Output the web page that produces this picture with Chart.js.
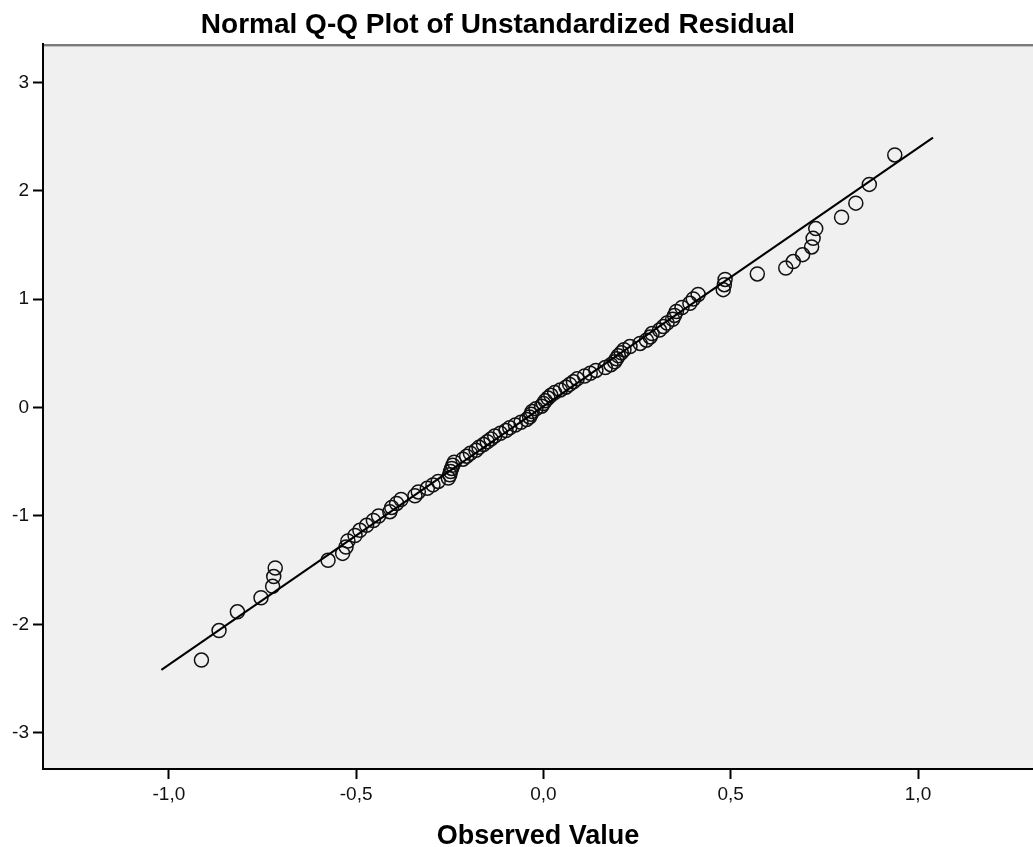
<!DOCTYPE html>
<html><head><meta charset="utf-8">
<script src="https://cdn.jsdelivr.net/npm/chart.js@4.4.1/dist/chart.umd.min.js"></script>
<style>html,body{margin:0;padding:0;background:#fff;overflow:hidden}canvas{display:block}</style>
</head><body>
<canvas id="c" width="1033" height="847"></canvas>
<script>
const titleText = 'Normal Q-Q Plot of Unstandardized Residual';
const xAxisTitle = 'Observed Value';

const observed = [
 -0.913,-0.866,-0.817,-0.754,-0.723,-0.720,-0.716,-0.575,-0.536,-0.527,
 -0.522,-0.503,-0.490,-0.472,-0.454,-0.440,-0.410,-0.405,-0.392,-0.380,
 -0.343,-0.334,-0.310,-0.295,-0.281,-0.254,-0.250,-0.248,-0.245,-0.242,
 -0.238,-0.215,-0.205,-0.195,-0.180,-0.172,-0.160,-0.150,-0.140,-0.130,
 -0.115,-0.100,-0.090,-0.075,-0.060,-0.045,-0.037,-0.033,-0.030,-0.020,
 -0.005, 0.000, 0.005, 0.012, 0.020, 0.030, 0.045, 0.060, 0.070, 0.080,
  0.090, 0.110, 0.125, 0.140, 0.165, 0.180, 0.190, 0.195, 0.200, 0.208,
  0.215, 0.231, 0.258, 0.275, 0.285, 0.290, 0.310, 0.320, 0.330, 0.345,
  0.350, 0.355, 0.370, 0.391, 0.400, 0.413, 0.480, 0.483, 0.485, 0.571,
  0.647, 0.667, 0.692, 0.716, 0.720, 0.727, 0.796, 0.834, 0.870, 0.938
];
const expected = [
 -2.330,-2.058,-1.885,-1.755,-1.650,-1.560,-1.481,-1.410,-1.346,-1.287,
 -1.232,-1.181,-1.133,-1.087,-1.043,-1.001,-0.961,-0.922,-0.885,-0.849,
 -0.814,-0.779,-0.746,-0.714,-0.682,-0.651,-0.621,-0.591,-0.562,-0.533,
 -0.505,-0.477,-0.449,-0.422,-0.395,-0.368,-0.342,-0.316,-0.290,-0.264,
 -0.238,-0.213,-0.187,-0.162,-0.137,-0.112,-0.087,-0.062,-0.037,-0.012,
  0.012, 0.037, 0.062, 0.087, 0.112, 0.137, 0.162, 0.187, 0.213, 0.238,
  0.264, 0.290, 0.316, 0.342, 0.368, 0.395, 0.422, 0.449, 0.477, 0.505,
  0.533, 0.562, 0.591, 0.621, 0.651, 0.682, 0.714, 0.746, 0.779, 0.814,
  0.849, 0.885, 0.922, 0.961, 1.001, 1.043, 1.087, 1.133, 1.181, 1.232,
  1.287, 1.346, 1.410, 1.481, 1.560, 1.650, 1.755, 1.885, 2.058, 2.330
];
const lineObserved = [-1.02, 1.04];
const lineExpected = [-2.42, 2.49];

const xTickValues = [-1, -0.5, 0, 0.5, 1];
const xTickLabels = ['-1,0', '-0,5', '0,0', '0,5', '1,0'];
const yTickValues = [-3, -2, -1, 0, 1, 2, 3];
const yTickLabels = ['-3', '-2', '-1', '0', '1', '2', '3'];

const FONT = "'Liberation Sans', Arial, sans-serif";

const framePlugin = {
  id: 'frame',
  beforeDraw(chart) {
    const {ctx, chartArea: a} = chart;
    ctx.save();
    ctx.fillStyle = '#f0f0f0';
    ctx.fillRect(a.left, a.top, a.right - a.left, a.bottom - a.top);
    ctx.strokeStyle = '#7a7a7a';
    ctx.lineWidth = 2;
    ctx.beginPath();
    ctx.moveTo(a.left, a.top + 1);
    ctx.lineTo(a.right, a.top + 1);
    ctx.stroke();
    ctx.strokeStyle = '#c0c0c0';
    ctx.lineWidth = 1;
    ctx.beginPath();
    ctx.moveTo(a.left, a.top + 2.5);
    ctx.lineTo(a.right, a.top + 2.5);
    ctx.stroke();
    ctx.restore();
  },
  afterDraw(chart) {
    const {ctx} = chart;
    ctx.save();
    ctx.fillStyle = '#000';
    ctx.font = 'bold 28px ' + FONT;
    ctx.textAlign = 'center';
    ctx.textBaseline = 'alphabetic';
    ctx.fillText(titleText, 498, 33);
    ctx.restore();
  }
};

const points = observed.map((v, i) => ({x: v, y: expected[i]}));
const linePts = lineObserved.map((v, i) => ({x: v, y: lineExpected[i]}));

new Chart(document.getElementById('c'), {
  type: 'scatter',
  data: {
    datasets: [
      {
        label: 'Line',
        data: linePts,
        showLine: true,
        borderColor: '#000',
        borderWidth: 2,
        pointRadius: 0,
        order: 0
      },
      {
        label: 'Residual',
        data: points,
        pointRadius: 7,
        pointBorderWidth: 1.5,
        borderColor: '#111',
        backgroundColor: 'rgba(0,0,0,0)',
        pointBackgroundColor: 'rgba(0,0,0,0)',
        order: 1
      }
    ]
  },
  plugins: [framePlugin],
  options: {
    responsive: false,
    animation: false,
    events: [],
    layout: {autoPadding: false, padding: {top: 44, left: 0, right: 0, bottom: 0}},
    plugins: {legend: {display: false}, tooltip: {enabled: false}, title: {display: false}},
    scales: {
      x: {
        type: 'linear',
        position: 'bottom',
        min: -1.336,
        max: 1.307,
        afterBuildTicks: s => { s.ticks = xTickValues.map(v => ({value: v})); },
        afterFit: s => { s.height = 78; s.paddingLeft = 0; s.paddingRight = 0; },
        ticks: {
          autoSkip: false, maxRotation: 0, includeBounds: false,
          padding: 4, color: '#111',
          font: {family: FONT, size: 19},
          callback: (v, i) => xTickLabels[i]
        },
        grid: {drawOnChartArea: false, drawTicks: true, tickLength: 10, tickColor: '#000', tickWidth: 2},
        border: {display: true, color: '#000', width: 2},
        title: {display: true, text: xAxisTitle, color: '#000', font: {family: FONT, size: 27, weight: 'bold'}, padding: {top: 0, bottom: -6}}
      },
      y: {
        type: 'linear',
        position: 'left',
        min: -3.335,
        max: 3.353,
        afterBuildTicks: s => { s.ticks = yTickValues.map(v => ({value: v})); },
        afterFit: s => { s.width = 43; s.paddingTop = 0; s.paddingBottom = 0; },
        ticks: {
          autoSkip: false, includeBounds: false,
          padding: 4, color: '#111',
          font: {family: FONT, size: 19},
          callback: (v, i) => yTickLabels[i]
        },
        grid: {drawOnChartArea: false, drawTicks: true, tickLength: 10, tickColor: '#000', tickWidth: 2},
        border: {display: true, color: '#000', width: 2}
      }
    }
  }
});
</script>
</body></html>
